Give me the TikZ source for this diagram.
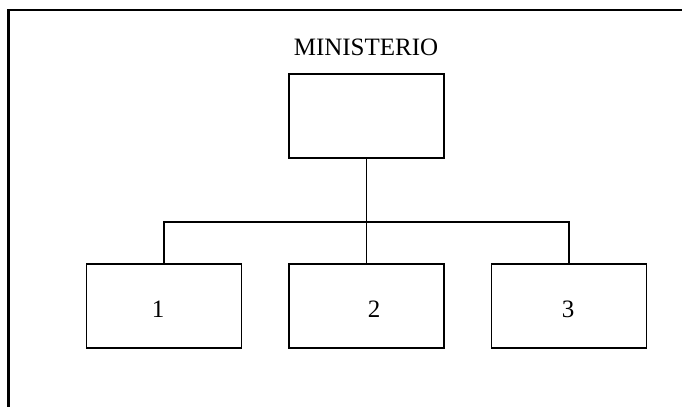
\documentclass[tikz,border=0pt]{standalone}
\usepackage{fontspec}
\setmainfont{Liberation Serif}
\begin{document}
\begin{tikzpicture}[x=1pt,y=-1pt,
  unit/.style={draw,line width=1.8pt,minimum width=155pt,minimum height=84pt,inner sep=0pt},
  link/.style={line width=1.8pt},
  lbl/.style={font=\fontsize{25}{28}\selectfont,inner sep=0pt}]
\useasboundingbox (0,0) rectangle (682,407);
% page frame (top and left edges)
\draw[line width=2.4pt] (682,10) -- (8.5,10) -- (8.5,407);
% head office
\node[lbl,anchor=base] (title) at (366,55) {MINISTERIO};
\node[unit] (top) at (366.5,116) {};
% subordinate units
\node[unit] (u1) at (164,306) {};
\node[unit] (u2) at (366.5,306) {};
\node[unit] (u3) at (569,306) {};
\node[lbl] (t1) at (158,309) {1};
\node[lbl] (t2) at (374,309) {2};
\node[lbl] (t3) at (568,309) {3};
% connectors
\coordinate (bus) at (366.5,222);
\draw[link] (top.south) -- (u2.north);
\draw[link] (u1.north) |- (bus) -| (u3.north);
\end{tikzpicture}
\end{document}
